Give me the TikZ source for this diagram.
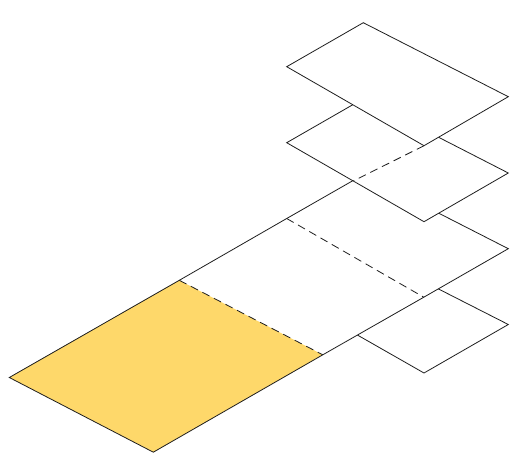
\documentclass[tikz,border=0pt]{standalone}
\definecolor{tileyellow}{RGB}{254,216,106}
\definecolor{edgecol}{RGB}{30,30,30}
\begin{document}
\begin{tikzpicture}[x=1pt,y=-1pt,
  edgeline/.style={draw=edgecol,line width=0.8pt,line join=miter},
  hiddenline/.style={draw=edgecol,line width=0.8pt,dash pattern=on 8pt off 5pt},
  tile/.style={edgeline,fill=white}]
\useasboundingbox (0,0) rectangle (512,453);
% tile corners
\coordinate (AL) at (286.7,66.7);  \coordinate (AT) at (363.3,22.7);
\coordinate (AR) at (508.3,96.7);  \coordinate (AB) at (424,145.7);
\coordinate (BL) at (286.7,142.7); \coordinate (BT) at (363.3,98.7);
\coordinate (BR) at (508.3,173);   \coordinate (BB) at (424,221.7);
\coordinate (CL) at (286.7,218.5); \coordinate (CT) at (363.3,174.7);
\coordinate (CR) at (508.3,248.7); \coordinate (CB) at (423.8,297.2);
\coordinate (DL) at (286.7,294.7); \coordinate (DT) at (363.3,250.7);
\coordinate (DR) at (508.3,324.5); \coordinate (DB) at (424,373);
% strip extension
\coordinate (SL) at (179.3,280.3); \coordinate (SR) at (322.8,354.8);
\coordinate (YL) at (9.3,377.5);   \coordinate (YB) at (153.3,452.2);
\coordinate (XM) at (353.3,181);
% bottom tile
\path[tile] (DL)--(DT)--(DR)--(DB)--cycle;
% strip
\fill[white] (YL)--(SL)--(CL)--(CT)--(CR)--(CB)--(SR)--(YB)--cycle;
\fill[tileyellow] (YL)--(SL)--(SR)--(YB)--cycle;
\draw[edgeline] (YL)--(SL)--(CL)--(CT)--(CR)--(CB)--(SR)--(YB)--cycle;
\draw[hiddenline] (SL)--(SR);
\draw[hiddenline] (CL)--(CB);
% upper tiles
\path[tile] (BL)--(BT)--(BR)--(BB)--cycle;
\path[tile] (AL)--(AT)--(AR)--(AB)--cycle;
\draw[hiddenline] (AB)--(XM);
\end{tikzpicture}
\end{document}
